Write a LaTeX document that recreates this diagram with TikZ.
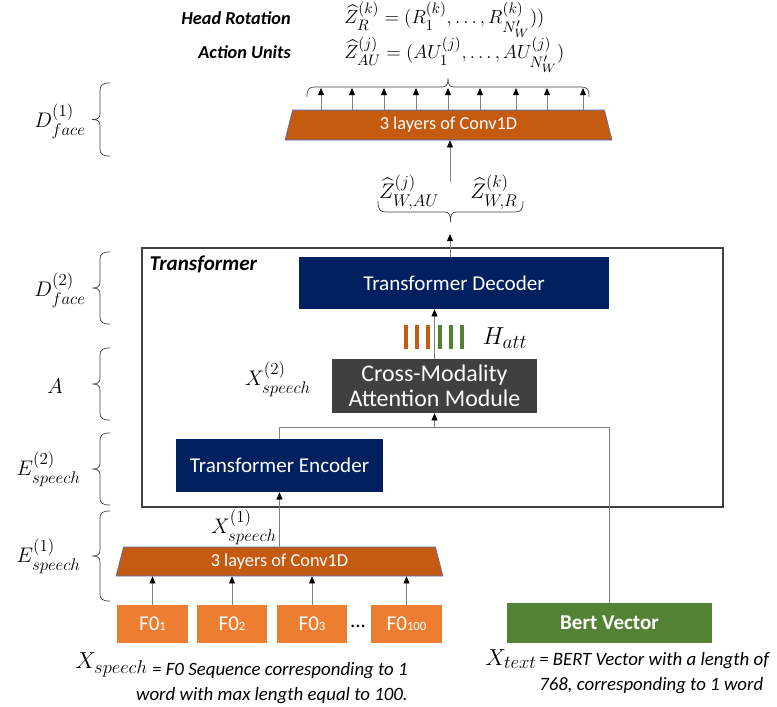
\RequirePackage{fix-cm}
\documentclass[tikz,border=0pt]{standalone}
\usepackage{amsmath}
\usepackage{fontspec}
\setmainfont{Carlito}
\usetikzlibrary{arrows.meta,positioning,shapes.geometric}
\definecolor{navy}{HTML}{002060}
\definecolor{convorange}{HTML}{C55A11}
\definecolor{fzero}{HTML}{ED7D31}
\definecolor{bertgreen}{HTML}{548235}
\definecolor{attgray}{HTML}{404040}
\definecolor{convedge}{HTML}{4472C4}
\definecolor{linegray}{HTML}{808080}
\DeclareMathSizes{13.5}{13.5}{10.8}{8.6}
\DeclareMathSizes{15}{15}{12}{9.6}
\DeclareMathSizes{16.5}{16.5}{13.2}{10.5}
\DeclareMathSizes{17.5}{17.5}{14}{11.2}
\newcommand{\setfs}[1]{\fontsize{#1}{#1}\selectfont}
\newcommand{\fsub}[1]{{\fontsize{9}{9}\selectfont #1}}
% brace opening right, tip to the left: x of ends, y top, y bottom
\newcommand{\sidebrace}[3]{%
  \draw[bracestyle] (#1,#2) .. controls ({#1-8},#2) and ({#1-10},{#2+2}) .. ({#1-10},{#2+8})
    -- ({#1-10},{(#2+#3)/2-6}) .. controls ({#1-10},{(#2+#3)/2-1}) and ({#1-13},{(#2+#3)/2}) .. ({#1-18},{(#2+#3)/2})
    .. controls ({#1-13},{(#2+#3)/2}) and ({#1-10},{(#2+#3)/2+1}) .. ({#1-10},{(#2+#3)/2+6})
    -- ({#1-10},{#3-8}) .. controls ({#1-10},{#3-2}) and ({#1-8},#3) .. (#1,#3);}
% horizontal brace: x left, x right, y of ends, depth (negative = tip up)
\newcommand{\flatbrace}[4]{%
  \draw[bracestyle] (#1,#3) .. controls (#1,{#3+(#4)*8}) and ({#1+2},{#3+(#4)*10}) .. ({#1+8},{#3+(#4)*10})
    -- ({(#1+#2)/2-6},{#3+(#4)*10}) .. controls ({(#1+#2)/2-1},{#3+(#4)*10}) and ({(#1+#2)/2},{#3+(#4)*13}) .. ({(#1+#2)/2},{#3+(#4)*19})
    .. controls ({(#1+#2)/2},{#3+(#4)*13}) and ({(#1+#2)/2+1},{#3+(#4)*10}) .. ({(#1+#2)/2+6},{#3+(#4)*10})
    -- ({#2-8},{#3+(#4)*10}) .. controls ({#2-2},{#3+(#4)*10}) and (#2,{#3+(#4)*8}) .. (#2,#3);}

\begin{document}
\begin{tikzpicture}[x=0.025cm,y=-0.025cm,
box/.style={align=center,text=white,inner sep=0pt,font=\setfs{15}},
conv/.style={trapezium,trapezium left angle=78,trapezium right angle=78,trapezium stretches=true,fill=convorange,draw=convedge,text=white,inner sep=0pt,minimum width=81.75mm,font=\setfs{13}},
fbox/.style={box,fill=fzero,minimum width=17.5mm,minimum height=9.5mm},
arr/.style={draw=linegray,line width=0.6pt,-{Triangle[length=1.8mm,width=1.5mm,color=black]}},
link/.style={draw=linegray,line width=0.6pt},
bracestyle/.style={draw=black!75,line width=0.5pt},
lbl/.style={inner sep=0pt,font=\setfs{15}}]
\useasboundingbox (0,0) rectangle (777,706);

% transformer block
\node[draw=attgray,line width=0.9pt,minimum width=145.25mm,minimum height=64.75mm] (trf) at (432.5,377.5) {};
\node[anchor=north west,inner sep=0pt,font=\setfs{15}\bfseries\itshape] (trflbl) at ([xshift=2mm,yshift=-2mm]trf.north west) {Transformer};
\node[box,fill=navy,minimum width=77.5mm,minimum height=13mm] (dec) at (454,283) {Transformer Decoder};
\node[box,fill=attgray,minimum width=51.25mm,minimum height=13.5mm,font=\fontsize{17}{18}\selectfont] (cma) at (434.5,386) {Cross-Modality\\Attention Module};
\node[box,fill=navy,minimum width=51.75mm,minimum height=13.25mm] (enc) at (279.5,465.5) {Transformer Encoder};

% speech input
\node[conv,minimum height=7.25mm] (conva) at (279.5,561.5) {3 layers of Conv1D};
\node[fbox] (fa) at (152.5,624) {F0\fsub{1}};
\node[fbox] (fb) at (232,624) {F0\fsub{2}};
\node[fbox] (fc) at (312,624) {F0\fsub{3}};
\node[fbox] (fd) at (406.5,624) {F0\fsub{100}};
\node[lbl] (dots) at (358,626) {...};
\node[box,fill=bertgreen,minimum width=51.25mm,minimum height=10mm,font=\setfs{15}\bfseries] (bert) at (609.5,623) {Bert Vector};

\foreach \n in {fa,fb,fc,fd}
  \draw[arr] (\n.north) -- (\n.north |- conva.south);
\draw[arr] (conva.north) -- (enc.south);
\node[lbl] (xsa) at (244,527) {$X^{(1)}_{speech}$};

% attention
\coordinate (merge) at (434.5,427);
\draw[link] (enc.north) |- (merge);
\draw[link] (bert.north) |- (merge);
\draw[arr] (merge) -- (cma.south);
\node[lbl] (xsb) at (278,379) {$X^{(2)}_{speech}$};
\draw[arr] (cma.north) -- (cma.north |- dec.south);
\foreach \x/\c in {406/convorange,417/convorange,428/convorange,440/bertgreen,451/bertgreen,462/bertgreen}
  \fill[\c] ({\x-2},325) rectangle ({\x+2},349);
\node[lbl,font=\setfs{17.5}] (hatt) at (505,338) {$H_{att}$};

% decoder output
\coordinate (zwtip) at (450,234);
\draw[arr] (dec.north -| zwtip) -- (zwtip);
\flatbrace{378}{523}{201}{1.1}
\node[lbl] (zwau) at (409,192) {$\widehat{Z}^{(j)}_{W,AU}$};
\node[lbl] (zwr) at (494,192) {$\widehat{Z}^{(k)}_{W,R}$};

% face conv and outputs
\node[conv,minimum height=7.5mm] (convb) at (448.5,125) {3 layers of Conv1D};
\coordinate (zwtop) at (450,182);
\draw[arr] (zwtop) -- (zwtop |- convb.south);
\foreach \x in {321,352,384,416,448,480,516,547,583}
  \draw[arr] (\x,0 |- convb.north) -- (\x,88);
\flatbrace{307}{589}{97}{-1}
\node[lbl,anchor=east,font=\setfs{13}\bfseries\itshape] (hrot) at (291,18) {Head Rotation};
\node[lbl,anchor=east,font=\setfs{13}\bfseries\itshape] (aunit) at (291,52) {Action Units};
\node[lbl,anchor=west,font=\setfs{13.5}] (zr) at (344,20) {$\widehat{Z}^{(k)}_{R}=(R^{(k)}_1,\ldots,R^{(k)}_{N'_W}))$};
\node[lbl,anchor=west,font=\setfs{13.5}] (zau) at (344,55) {$\widehat{Z}^{(j)}_{AU}=(AU^{(j)}_1,\ldots,AU^{(j)}_{N'_W})$};

% left braces
\sidebrace{110}{83}{156}
\node[lbl,anchor=east] (dfa) at (86,121) {$D^{(1)}_{face}$};
\sidebrace{110}{252}{324}
\node[lbl,anchor=east] (dfb) at (86,290) {$D^{(2)}_{face}$};
\sidebrace{110}{348}{420}
\node[lbl] (att) at (55,386) {$A$};
\sidebrace{110}{433}{505}
\node[lbl,anchor=east] (esb) at (81,469) {$E^{(2)}_{speech}$};
\sidebrace{110}{511}{601}
\node[lbl,anchor=east] (esa) at (81,556) {$E^{(1)}_{speech}$};

% captions
\node[lbl,anchor=east,font=\setfs{16.5}] (xsp) at (148,665) {$X_{speech}$};
\node[inner sep=0pt,anchor=east,align=right,font=\fontsize{13.4}{17.5}\selectfont\itshape] (xspdef) at (408,683) {= F0 Sequence corresponding to 1\\word with max length equal to 100.};
\node[lbl,anchor=east,font=\setfs{16.5}] (xtx) at (537,659) {$X_{text}$};
\node[inner sep=0pt,anchor=west,align=left,font=\fontsize{13.4}{17.5}\selectfont\itshape] (xtxdef) at (539,673) {= BERT Vector with a length of\\768, corresponding to 1 word};
\end{tikzpicture}
\end{document}
